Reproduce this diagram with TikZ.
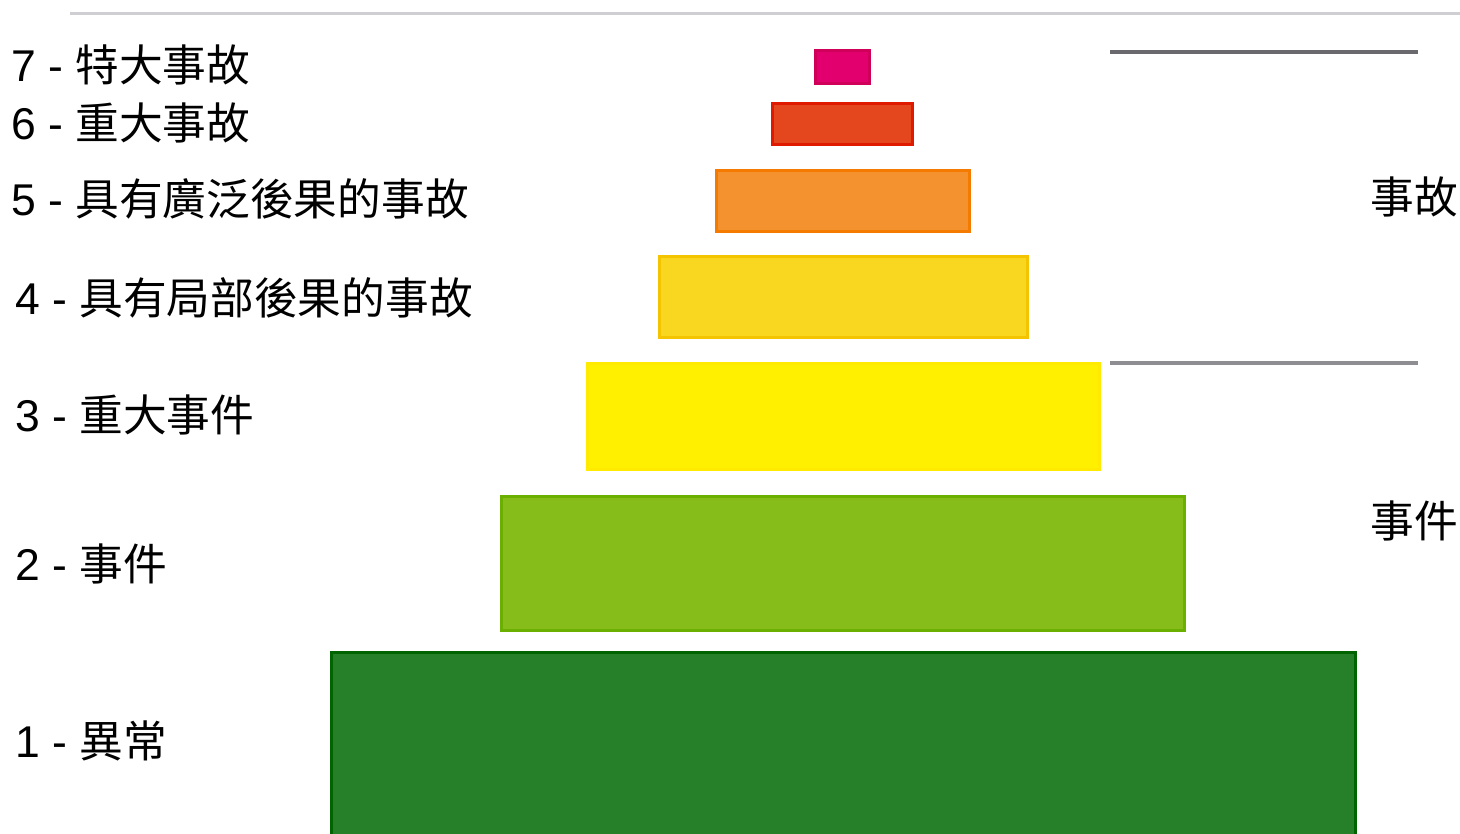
\documentclass[tikz,border=0pt]{standalone}
\usepackage{fontspec}
\setmainfont{Liberation Sans}
\newfontfamily\cjk{Noto Sans CJK TC}
\definecolor{f7}{HTML}{E2006F}\definecolor{d7}{HTML}{D0005A}
\definecolor{f6}{HTML}{E4471E}\definecolor{d6}{HTML}{E01A00}
\definecolor{f5}{HTML}{F3922E}\definecolor{d5}{HTML}{F47B00}
\definecolor{f4}{HTML}{F9D61F}\definecolor{d4}{HTML}{F5C400}
\definecolor{f3}{HTML}{FFF000}\definecolor{d3}{HTML}{FFEA00}
\definecolor{f2}{HTML}{86BD1A}\definecolor{d2}{HTML}{6BAF00}
\definecolor{f1}{HTML}{26802A}\definecolor{d1}{HTML}{006400}
\definecolor{topline}{HTML}{CFCFD3}
\definecolor{sepA}{HTML}{6A6A6E}
\definecolor{sepB}{HTML}{8E8E92}
\begin{document}
\begin{tikzpicture}[x=1pt,y=-1pt,
  lvlbox/.style={rectangle, inner sep=0pt, line width=3pt},
  lbl/.style={anchor=west, inner sep=0pt, font=\fontsize{44.5}{50}\selectfont},
  rlbl/.style={anchor=east, inner sep=0pt, font=\fontsize{43.7}{50}\selectfont\cjk}]
\newfontfamily\cjkl[Scale=0.982]{Noto Sans CJK TC}
\useasboundingbox (0,0) rectangle (1460,834);
\clip (0,0) rectangle (1460,834);
% top rule and separators
\coordinate (t1) at (70,14); \coordinate (t2) at (1460,14);
\draw[topline, line width=3pt] (t1) -- (t2);
\coordinate (s1a) at (1110,52); \coordinate (s1b) at (1418,52);
\draw[sepA, line width=3.5pt] (s1a) -- (s1b);
\coordinate (s2a) at (1110,363); \coordinate (s2b) at (1418,363);
\draw[sepB, line width=3.5pt] (s2a) -- (s2b);
% boxes
\node[lvlbox, fill=f7, draw=d7, minimum width=54pt, minimum height=33pt] (b7) at (842.5,67) {};
\node[lvlbox, fill=f6, draw=d6, minimum width=140pt, minimum height=41pt] (b6) at (842,124.5) {};
\node[lvlbox, fill=f5, draw=d5, minimum width=253pt, minimum height=61pt] (b5) at (842.5,201.5) {};
\node[lvlbox, fill=f4, draw=d4, minimum width=368pt, minimum height=81pt] (b4) at (843,297.5) {};
\node[lvlbox, fill=f3, draw=d3, minimum width=512pt, minimum height=105pt] (b3) at (843,416.5) {};
\node[lvlbox, fill=f2, draw=d2, minimum width=683pt, minimum height=134pt] (b2) at (842.5,563) {};
\node[lvlbox, fill=f1, draw=d1, minimum width=1024pt, minimum height=190pt] (b1) at (843,747) {};
% left labels
\node[lbl] (l7) at (11,65) {7 - {\cjkl 特大事故}};
\node[lbl] (l6) at (11,123) {6 - {\cjkl 重大事故}};
\node[lbl] (l5) at (11,199) {5 - {\cjkl 具有廣泛後果的事故}};
\node[lbl] (l4) at (15,298) {4 - {\cjkl 具有局部後果的事故}};
\node[lbl] (l3) at (15,415) {3 - {\cjkl 重大事件}};
\node[lbl] (l2) at (15,564) {2 - {\cjkl 事件}};
\node[lbl] (l1) at (15,741) {1 - {\cjkl 異常}};
% right labels
\node[rlbl] (r1) at (1458,197) {事故};
\node[rlbl] (r2) at (1458,521) {事件};
\end{tikzpicture}
\end{document}
